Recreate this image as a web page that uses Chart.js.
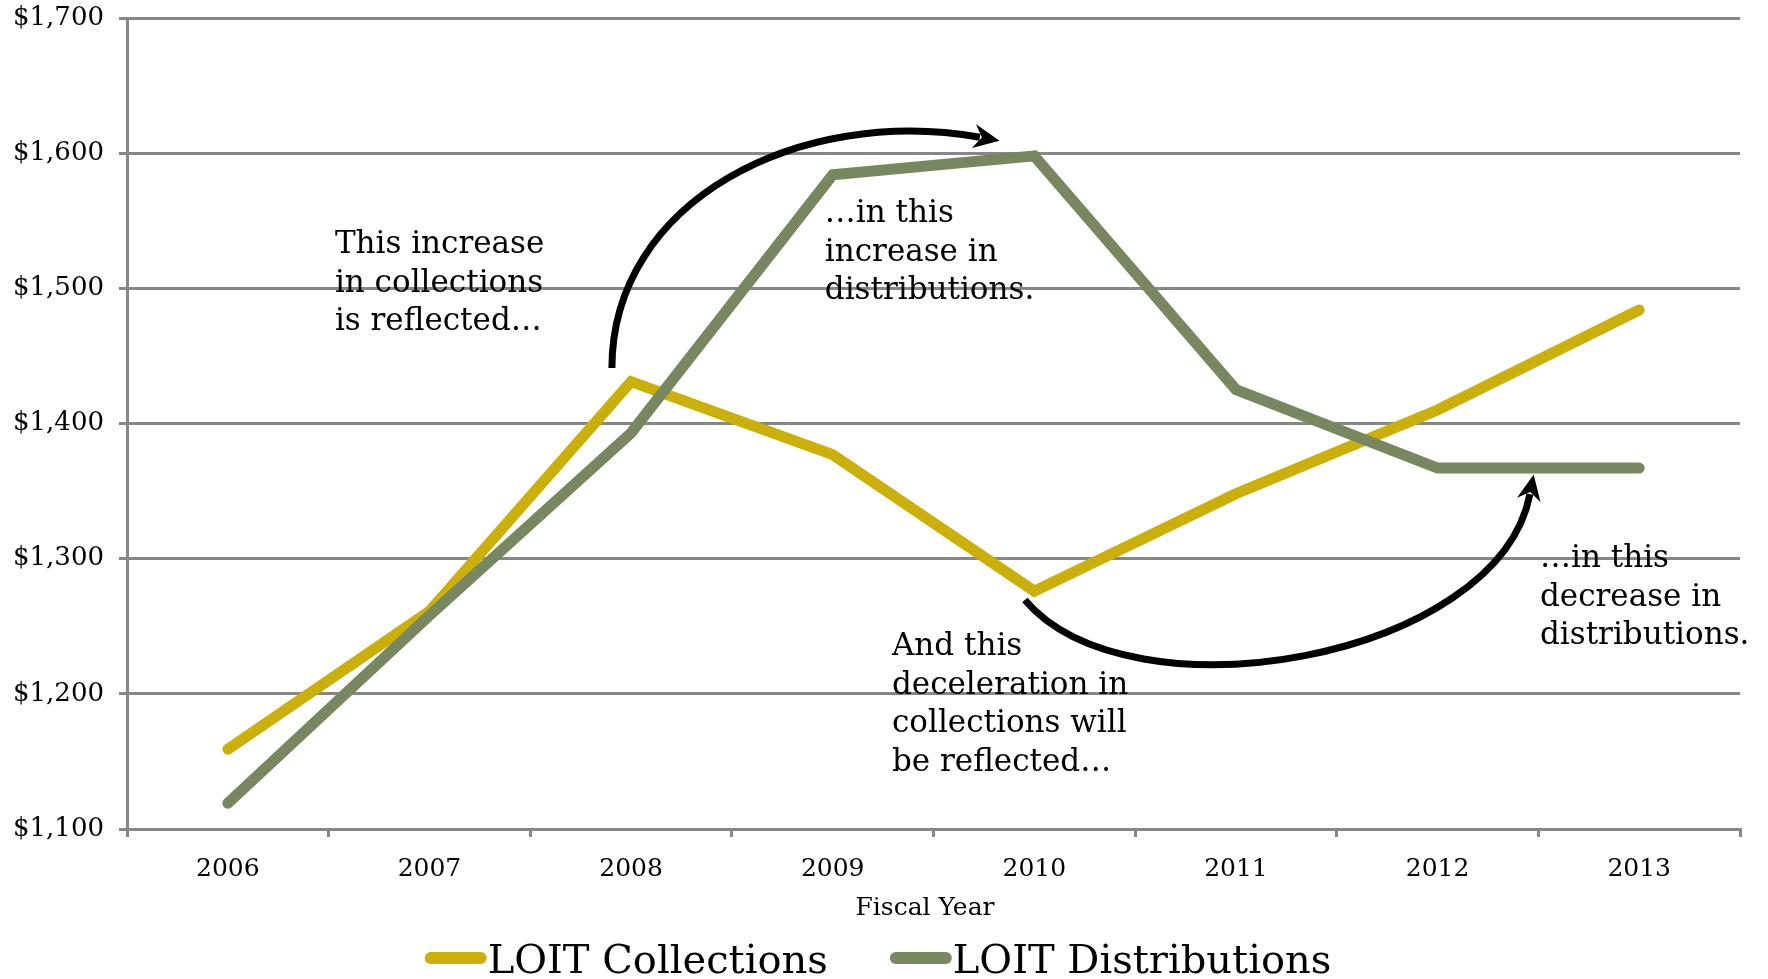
<!DOCTYPE html>
<html>
<head>
<meta charset="utf-8">
<script src="https://cdn.jsdelivr.net/npm/chart.js@4.4.1/dist/chart.umd.min.js"></script>
<style>
  html, body { margin: 0; padding: 0; background: #ffffff; }
  #wrap { width: 1768px; height: 979px; }
</style>
</head>
<body>
<div id="wrap"><canvas id="c" width="1768" height="979"></canvas></div>
<script>
// ---- data ----
const categories = ['2006', '2007', '2008', '2009', '2010', '2011', '2012', '2013'];
const collections = [1159, 1261, 1431, 1377, 1276, 1348, 1410, 1484];
const distributions = [1119, 1258, 1393, 1584, 1598, 1425, 1367, 1367];
const seriesNames = ['LOIT Collections', 'LOIT Distributions'];
const yMin = 1100, yMax = 1700, yStep = 100;
const xTitle = 'Fiscal Year';

// annotation anchors in data coordinates [category index, value]
const arrowUp = [[1.905, 1441], [1.905, 1565], [2.837, 1635.5], [3.73, 1611.8]];
const arrowDown = [[3.953, 1269.4], [4.474, 1178], [6.3, 1225], [6.458, 1347.8]];
const noteTexts = [
  ['This increase', 'in collections', 'is reflected…'],
  ['…in this', 'increase in', 'distributions.'],
  ['And this', 'deceleration in', 'collections will', 'be reflected…'],
  ['…in this', 'decrease in', 'distributions.']
];
const noteAnchors = [[0.531, 1526], [2.961, 1549], [3.294, 1228.7], [6.508, 1293.8]];

const YELLOW = '#CBAF0B';
const GREEN = '#77875F';
const GRID = '#878787';
const FONT = '"DejaVu Serif", serif';

const annotations = {
  id: 'annotations',
  afterDatasetsDraw(chart) {
    const {ctx, scales: {x, y}} = chart;
    const P = p => [x.getPixelForValue(p[0]), y.getPixelForValue(p[1])];
    ctx.save();
    [arrowUp, arrowDown].forEach(a => {
      const pts = a.map(P);
      ctx.beginPath();
      ctx.moveTo(pts[0][0], pts[0][1]);
      ctx.bezierCurveTo(pts[1][0], pts[1][1], pts[2][0], pts[2][1], pts[3][0], pts[3][1]);
      ctx.lineWidth = 7;
      ctx.lineCap = 'butt';
      ctx.strokeStyle = '#000';
      ctx.stroke();
      const dx = pts[3][0] - pts[2][0], dy = pts[3][1] - pts[2][1];
      const L = Math.hypot(dx, dy), ux = dx / L, uy = dy / L, nx = -uy, ny = ux;
      const bx = pts[3][0], by = pts[3][1];
      ctx.beginPath();
      ctx.moveTo(bx + ux * 20, by + uy * 20);
      ctx.lineTo(bx - ux * 6 + nx * 12, by - uy * 6 + ny * 12);
      ctx.lineTo(bx + ux * 2, by + uy * 2);
      ctx.lineTo(bx - ux * 6 - nx * 12, by - uy * 6 - ny * 12);
      ctx.closePath();
      ctx.fillStyle = '#000';
      ctx.fill();
    });
    ctx.font = '31px ' + FONT;
    ctx.fillStyle = '#000';
    ctx.textAlign = 'left';
    ctx.textBaseline = 'alphabetic';
    noteTexts.forEach((lines, i) => {
      const [px, py] = P(noteAnchors[i]);
      lines.forEach((t, k) => ctx.fillText(t, px, py + k * 38.5));
    });
    ctx.restore();
  }
};

const customLegend = {
  id: 'customLegend',
  afterDraw(chart) {
    const {ctx} = chart;
    ctx.save();
    // axis title
    ctx.font = '25px ' + FONT;
    ctx.fillStyle = '#000';
    ctx.textAlign = 'center';
    ctx.textBaseline = 'alphabetic';
    ctx.fillText(xTitle, 925, 915);
    // legend
    ctx.font = '40px ' + FONT;
    const sym = 62, gap = 62;
    const items = chart.data.datasets.map(d => ({text: d.label, color: d.borderColor, w: ctx.measureText(d.label).width}));
    const total = items.reduce((s, it) => s + sym + 1 + it.w, 0) + gap * (items.length - 1);
    let xx = 878 - total / 2;
    const yLine = 958, yText = 973;
    items.forEach(it => {
      ctx.beginPath();
      ctx.moveTo(xx + 6, yLine);
      ctx.lineTo(xx + sym - 6, yLine);
      ctx.lineWidth = 12;
      ctx.lineCap = 'round';
      ctx.strokeStyle = it.color;
      ctx.stroke();
      ctx.fillStyle = '#000';
      ctx.textBaseline = 'alphabetic';
      ctx.textAlign = 'left';
      ctx.fillText(it.text, xx + sym + 1, yText);
      xx += sym + 1 + it.w + gap;
    });
    ctx.restore();
  }
};

Chart.defaults.font.family = FONT;
Chart.defaults.color = '#000';

new Chart(document.getElementById('c'), {
  type: 'line',
  data: {
    labels: categories,
    datasets: [
      {label: seriesNames[0], data: collections, borderColor: YELLOW, backgroundColor: YELLOW,
       borderWidth: 11, pointRadius: 0, tension: 0, borderCapStyle: 'round', borderJoinStyle: 'miter', order: 1},
      {label: seriesNames[1], data: distributions, borderColor: GREEN, backgroundColor: GREEN,
       borderWidth: 11, pointRadius: 0, tension: 0, borderCapStyle: 'round', borderJoinStyle: 'miter', order: 0}
    ]
  },
  options: {
    responsive: false,
    devicePixelRatio: 1,
    animation: false,
    layout: {padding: {top: 18, right: 28, left: 0, bottom: 54}},
    plugins: {legend: {display: false}, tooltip: {enabled: false}},
    scales: {
      x: {
        offset: true,
        grid: {offset: true, drawOnChartArea: false, drawTicks: true, tickLength: 8, lineWidth: 3, color: GRID},
        border: {display: true, color: GRID, width: 3},
        ticks: {font: {size: 25}, padding: 17, color: '#000', maxRotation: 0},
        title: {display: false, text: xTitle},
        afterFit(s) { s.height = 96; s.paddingLeft = 0; s.paddingRight = 0; }
      },
      y: {
        min: yMin, max: yMax,
        grid: {drawTicks: true, tickLength: 8, lineWidth: 3, color: GRID},
        border: {display: true, color: GRID, width: 3},
        ticks: {stepSize: yStep, font: {size: 26}, padding: 15, color: '#000',
                callback: v => '$' + Number(v).toLocaleString('en-US')},
        afterFit(s) { s.width = 127; s.paddingTop = 0; s.paddingBottom = 0; }
      }
    }
  },
  plugins: [annotations, customLegend]
});
</script>
</body>
</html>
